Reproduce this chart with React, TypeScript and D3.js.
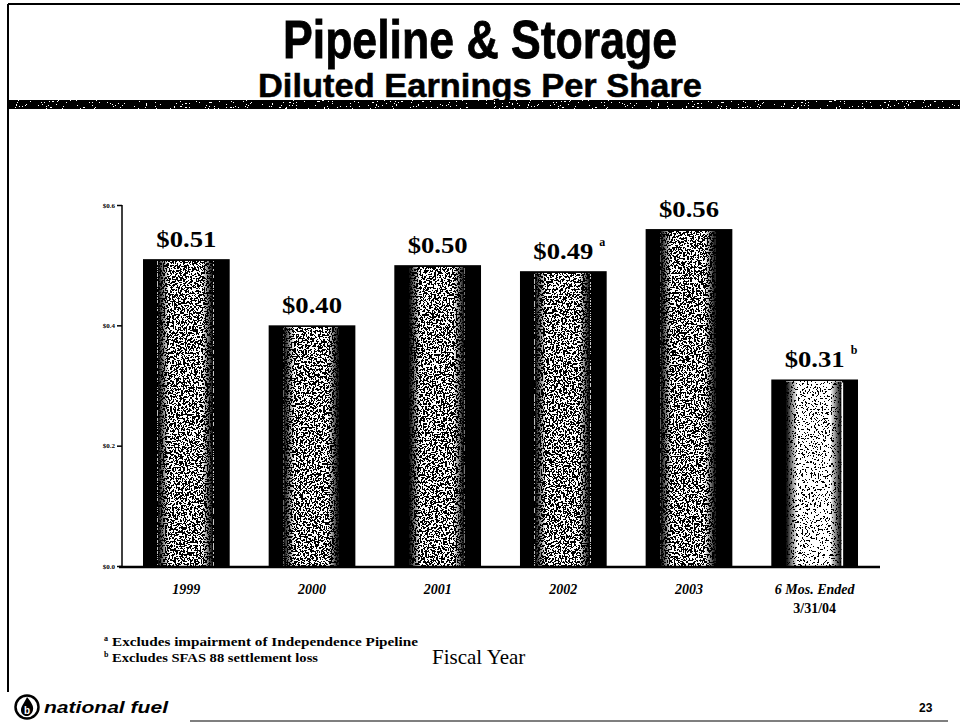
import React, { useRef, useEffect } from 'react';
import * as d3 from 'd3';

const categories = ['1999', '2000', '2001', '2002', '2003', '6 Mos. Ended'];
const values = [0.51, 0.40, 0.50, 0.49, 0.56, 0.31];
const valueLabels = ['$0.51', '$0.40', '$0.50', '$0.49', '$0.56', '$0.31'];
const superscripts = ['', '', '', 'a', '', 'b'];
const yTicks = [0, 0.2, 0.4, 0.6];
const yTickLabels = ['$0.0', '$0.2', '$0.4', '$0.6'];
const footnotes = [
    { mark: 'a', text: 'Excludes impairment of Independence Pipeline' },
    { mark: 'b', text: 'Excludes SFAS 88 settlement loss' },
];

const SERIF = '"Liberation Serif", "Times New Roman", serif';
const SANS = '"Liberation Sans", Arial, sans-serif';

const App = () => {
    const svgRef = useRef(null);

    useEffect(() => {
        const svg = d3.select(svgRef.current);
        svg.selectAll('*').remove();
        const width = 960;
        const height = 726;
        svg.attr('width', width).attr('height', height).attr('viewBox', [0, 0, width, height]);

        const defs = svg.append('defs');
        const mkNoise = (id, table, freq, seed) => {
            const f = defs.append('filter').attr('id', id)
                .attr('x', 0).attr('y', 0).attr('width', '100%').attr('height', '100%');
            f.append('feTurbulence').attr('type', 'fractalNoise')
                .attr('baseFrequency', freq).attr('numOctaves', 2).attr('seed', seed);
            f.append('feColorMatrix').attr('type', 'matrix')
                .attr('values', '1 0 0 0 0  1 0 0 0 0  1 0 0 0 0  0 0 0 0 1');
            const ct = f.append('feComponentTransfer');
            ['feFuncR', 'feFuncG', 'feFuncB'].forEach(fn =>
                ct.append(fn).attr('type', 'discrete').attr('tableValues', table));
        };
        mkNoise('speckle', '0 0 0 0 0 1 1 1 1 1', 0.55, 4);
        mkNoise('speckleLight', '0 0 0 0 1 1 1 1 1 1', 0.55, 9);
        mkNoise('bandNoise', '0 0 0 0 0 0 0 1 1 1', '0.5 0.8', 2);

        const edge = defs.append('linearGradient').attr('id', 'edge')
            .attr('x1', 0).attr('x2', 1).attr('y1', 0).attr('y2', 0);
        [[0, 1], [0.2, 0.0], [0.8, 0.0], [1, 1]].forEach(([o, a]) =>
            edge.append('stop').attr('offset', o).attr('stop-color', '#000').attr('stop-opacity', a));

        // frame
        svg.append('line').attr('x1', 8).attr('x2', 960).attr('y1', 4).attr('y2', 4)
            .attr('stroke', '#000').attr('stroke-width', 2);
        svg.append('line').attr('x1', 8).attr('x2', 8).attr('y1', 4).attr('y2', 692)
            .attr('stroke', '#000').attr('stroke-width', 2);
        svg.append('line').attr('x1', 190).attr('x2', 948).attr('y1', 721).attr('y2', 721)
            .attr('stroke', '#555').attr('stroke-width', 1.5);

        // titles
        svg.append('text').attr('x', 480).attr('y', 58).attr('text-anchor', 'middle')
            .attr('font-family', SANS).attr('font-weight', 'bold').attr('font-size', 54)
            .attr('stroke', '#000').attr('stroke-width', 0.8)
            .attr('textLength', 394).attr('lengthAdjust', 'spacingAndGlyphs')
            .text('Pipeline & Storage');
        svg.append('text').attr('x', 480).attr('y', 97).attr('text-anchor', 'middle')
            .attr('font-family', SANS).attr('font-weight', 'bold').attr('font-size', 34)
            .attr('stroke', '#000').attr('stroke-width', 0.5)
            .attr('textLength', 444).attr('lengthAdjust', 'spacingAndGlyphs')
            .text('Diluted Earnings Per Share');

        // textured band
        svg.append('rect').attr('x', 9).attr('y', 100).attr('width', 951).attr('height', 9)
            .attr('filter', 'url(#bandNoise)');

        const x = d3.scaleBand().domain(categories).range([143, 858]).paddingInner(0.31).paddingOuter(0);
        const y = d3.scaleLinear().domain([0, 0.6]).range([566, 205]);

        // bars
        const bars = svg.append('g').selectAll('g').data(categories).join('g');
        bars.append('rect')
            .attr('x', d => x(d)).attr('y', (d, i) => y(values[i]))
            .attr('width', x.bandwidth()).attr('height', (d, i) => y(0) - y(values[i]))
            .attr('fill', '#000');
        bars.append('rect')
            .attr('x', d => x(d) + x.bandwidth() * 0.17).attr('y', (d, i) => y(values[i]) + 2)
            .attr('width', x.bandwidth() * 0.64).attr('height', (d, i) => y(0) - y(values[i]) - 2)
            .attr('filter', (d, i) => i === categories.length - 1 ? 'url(#speckleLight)' : 'url(#speckle)');
        bars.append('rect')
            .attr('x', d => x(d) + x.bandwidth() * 0.17).attr('y', (d, i) => y(values[i]) + 2)
            .attr('width', x.bandwidth() * 0.64).attr('height', (d, i) => y(0) - y(values[i]) - 2)
            .attr('fill', 'url(#edge)');
        // thin highlight on last bar
        const last = categories[categories.length - 1];
        svg.append('line')
            .attr('x1', x(last) + x.bandwidth() * 0.82).attr('x2', x(last) + x.bandwidth() * 0.82)
            .attr('y1', y(values[values.length - 1]) + 3).attr('y2', y(0))
            .attr('stroke', '#fff').attr('stroke-width', 1.5);

        // value labels
        bars.append('text')
            .attr('x', d => x(d) + x.bandwidth() / 2)
            .attr('y', (d, i) => y(values[i]) - 12)
            .attr('text-anchor', 'middle')
            .attr('font-family', SERIF).attr('font-weight', 'bold').attr('font-size', 24)
            .attr('textLength', 60).attr('lengthAdjust', 'spacingAndGlyphs')
            .text((d, i) => valueLabels[i]);
        bars.filter(d => superscripts[categories.indexOf(d)] !== '').append('text')
            .attr('x', d => x(d) + x.bandwidth() / 2 + 36)
            .attr('y', d => y(values[categories.indexOf(d)]) - 25)
            .attr('font-family', SERIF).attr('font-weight', 'bold').attr('font-size', 12)
            .text(d => superscripts[categories.indexOf(d)]);

        // y axis
        const yAxis = svg.append('g').attr('transform', 'translate(122,0)')
            .call(d3.axisLeft(y).tickValues(yTicks).tickSize(5).tickFormat((d, i) => yTickLabels[i]));
        yAxis.select('.domain').attr('d', `M0,${y(0.6)}V${y(0)}`).attr('stroke-width', 1.5);
        yAxis.selectAll('.tick line').attr('stroke-width', 1.5);
        yAxis.selectAll('.tick text')
            .attr('font-family', SERIF).attr('font-weight', 'bold').attr('font-size', 7).attr('x', -7);

        // baseline
        svg.append('line').attr('x1', 119).attr('x2', 880).attr('y1', y(0) + 1).attr('y2', y(0) + 1)
            .attr('stroke', '#000').attr('stroke-width', 2.5);

        // x labels
        svg.append('g').selectAll('text').data(categories).join('text')
            .attr('x', d => x(d) + x.bandwidth() / 2).attr('y', 594)
            .attr('text-anchor', 'middle')
            .attr('font-family', SERIF).attr('font-weight', 'bold').attr('font-style', 'italic')
            .attr('font-size', 14).text(d => d);
        svg.append('text').attr('x', x(last) + x.bandwidth() / 2).attr('y', 613)
            .attr('text-anchor', 'middle')
            .attr('font-family', SERIF).attr('font-weight', 'bold').attr('font-size', 14)
            .text('3/31/04');

        // footnotes
        const fn = svg.append('g').selectAll('g').data(footnotes).join('g')
            .attr('transform', (d, i) => `translate(104,${646 + i * 16})`);
        fn.append('text').attr('x', 0).attr('y', -5)
            .attr('font-family', SERIF).attr('font-weight', 'bold').attr('font-size', 8)
            .text(d => d.mark);
        fn.append('text').attr('x', 8).attr('y', 0)
            .attr('font-family', SERIF).attr('font-weight', 'bold').attr('font-size', 13)
            .attr('textLength', (d, i) => i === 0 ? 306 : 206).attr('lengthAdjust', 'spacingAndGlyphs')
            .text(d => d.text);

        svg.append('text').attr('x', 432).attr('y', 664)
            .attr('font-family', SERIF).attr('font-size', 21).text('Fiscal Year');

        // logo
        svg.append('circle').attr('cx', 27).attr('cy', 707).attr('r', 11.5)
            .attr('fill', 'none').attr('stroke', '#000').attr('stroke-width', 2.5);
        svg.append('path')
            .attr('d', 'M27,697 C31,702 34,706 33,710 C32,714 29,716 27,716 C24,716 21,714 21,710 C21,706 25,702 27,697 Z')
            .attr('fill', '#000');
        svg.append('text').attr('x', 27).attr('y', 714).attr('text-anchor', 'middle')
            .attr('font-family', SANS).attr('font-weight', 'bold').attr('font-size', 10)
            .attr('fill', '#fff').text('b');
        svg.append('text').attr('x', 44).attr('y', 713)
            .attr('font-family', SANS).attr('font-weight', 'bold').attr('font-style', 'italic')
            .attr('font-size', 17).attr('textLength', 124).attr('lengthAdjust', 'spacingAndGlyphs')
            .text('national fuel');

        svg.append('text').attr('x', 919).attr('y', 712)
            .attr('font-family', SANS).attr('font-weight', 'bold').attr('font-size', 12)
            .text('23');
    }, []);

    return <svg ref={svgRef} style={{ position: 'absolute', left: 0, top: 0, background: '#fff' }}></svg>;
};

export default App;
